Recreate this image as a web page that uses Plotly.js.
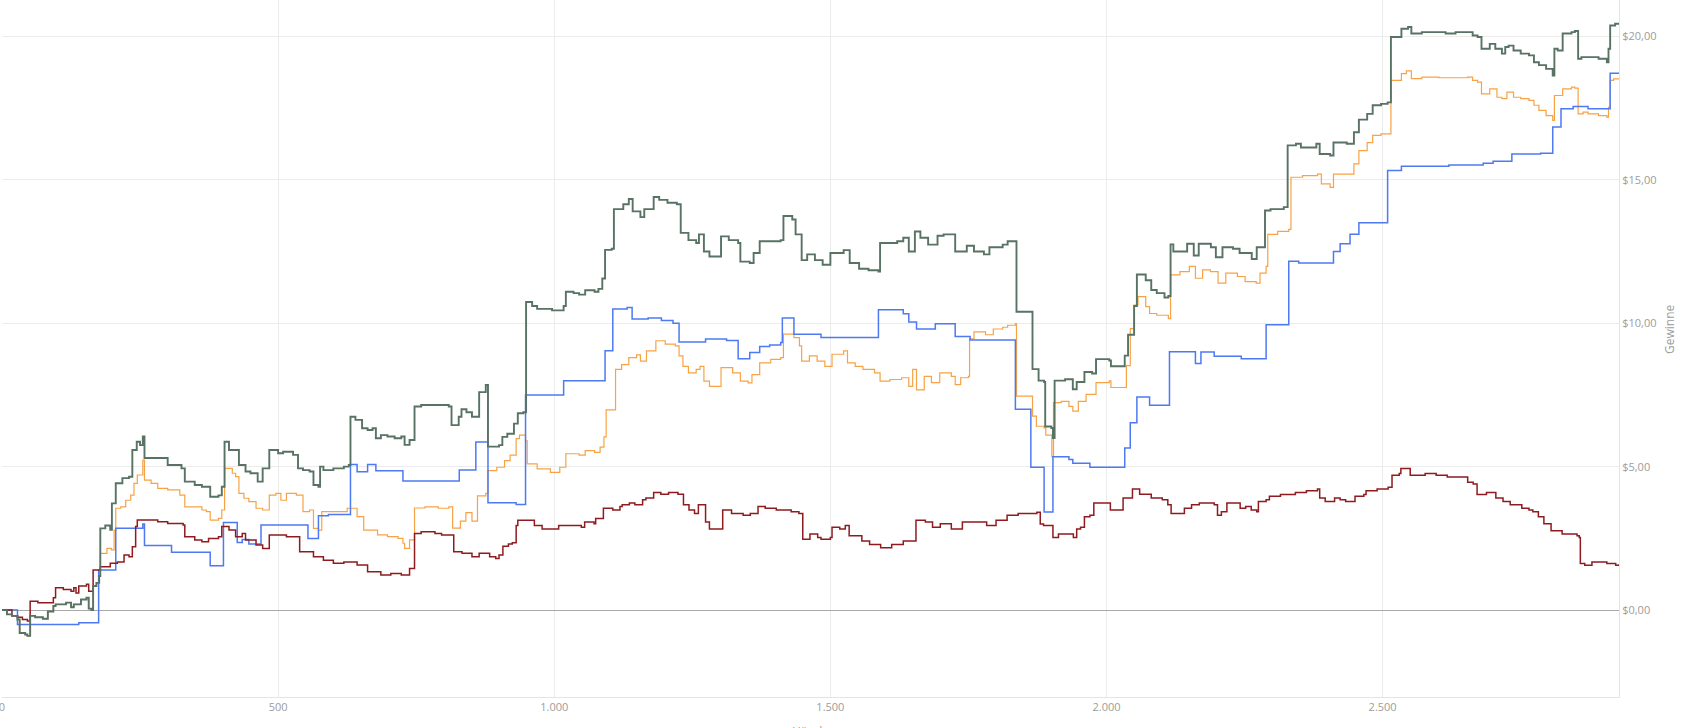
<!DOCTYPE html>
<html>
<head>
<meta charset="utf-8">
<script src="https://cdn.plot.ly/plotly-3.0.1.min.js"></script>
<style>html,body{margin:0;padding:0;background:#fff;}#chart{width:1683px;height:728px;}</style>
</head>
<body>
<div id="chart"></div>
<script>
// Hands (x) and cumulative winnings in $ (y)
const netWonHands = [0,9,18,28,32,42,46,51,60,74,83,93,97,116,125,130,143,153,157,162,165,171,176,178,187,196,199,206,218,230,236,244,250,255,258,270,300,325,331,349,362,377,392,398,403,411,423,429,441,450,463,472,484,500,509,527,536,545,557,564,573,576,582,600,619,628,631,640,652,662,671,677,686,698,711,723,729,738,747,759,778,809,814,827,832,841,851,864,876,880,900,906,915,927,934,944,949,960,969,996,1017,1021,1035,1045,1056,1073,1080,1087,1092,1104,1108,1125,1135,1142,1156,1163,1180,1190,1205,1222,1229,1243,1257,1262,1271,1281,1299,1302,1316,1333,1337,1354,1361,1372,1392,1410,1415,1431,1437,1448,1458,1472,1486,1500,1524,1535,1552,1569,1587,1590,1621,1632,1642,1653,1663,1677,1694,1705,1726,1747,1760,1778,1788,1812,1821,1835,1837,1863,1866,1877,1887,1889,1900,1903,1906,1925,1939,1946,1960,1974,1981,2005,2008,2029,2033,2039,2050,2055,2071,2081,2091,2105,2112,2116,2121,2146,2158,2167,2189,2198,2210,2229,2241,2263,2272,2287,2297,2321,2328,2343,2352,2380,2386,2405,2411,2435,2448,2457,2472,2482,2497,2509,2515,2528,2534,2546,2552,2571,2602,2614,2632,2654,2663,2672,2679,2694,2704,2716,2722,2728,2737,2750,2765,2774,2783,2796,2808,2811,2817,2826,2842,2848,2854,2860,2872,2891,2906,2909,2912,2921,2928];
const netWon = [0,-0.15,-0.2,-0.33,-0.8,-0.85,-0.9,-0.2,-0.25,-0.3,-0.05,0.14,0.2,0.26,0.1,0.2,0.37,0.43,0.05,0,0.84,0.95,1.19,2.85,2.95,2.8,3.72,4.42,4.6,4.65,5.58,5.87,5.75,6.05,5.3,5.3,5.06,4.94,4.48,4.36,4.3,3.95,4.0,4.3,5.87,5.58,5.58,5.06,4.83,4.77,4.48,4.94,5.58,5.47,5.52,5.41,4.94,4.88,4.83,4.36,4.3,5.0,4.88,4.94,5.0,5.06,6.74,6.63,6.34,6.28,6.34,5.99,6.1,6.05,5.99,6.05,5.76,5.93,7.1,7.15,7.15,7.1,6.45,6.74,7.0,6.9,6.74,7.6,7.85,5.7,5.75,6.04,6.15,6.5,6.86,6.9,10.74,10.6,10.5,10.45,10.6,11.1,11.05,11.0,11.15,11.1,11.2,11.56,12.56,12.6,13.98,14.15,14.33,13.9,13.7,13.98,14.4,14.3,14.2,14.15,13.15,12.9,12.8,13.1,12.5,12.33,12.33,13.03,12.9,12.8,12.15,12.1,12.45,12.86,12.86,12.9,13.74,13.62,13.1,12.2,12.4,12.2,12.04,12.45,12.55,12.1,11.9,11.85,11.8,12.8,12.86,12.98,12.5,13.2,12.98,12.74,13.05,13.1,12.5,12.7,12.5,12.4,12.65,12.74,12.86,12.86,10.4,10.4,8.4,8.0,7.95,6.4,6.35,6.0,8.0,8.05,7.7,7.95,8.3,8.25,8.75,8.7,8.5,8.5,8.87,9.6,10.6,11.7,11.5,11.16,11.05,10.9,10.95,12.75,12.5,12.77,12.36,12.77,12.65,12.3,12.65,12.6,12.45,12.24,12.65,13.93,13.98,14.05,16.2,16.26,16.13,16.26,15.9,15.85,16.3,16.26,16.66,17.1,17.3,17.6,17.65,17.7,19.98,19.98,20.27,20.33,20.1,20.15,20.15,20.1,20.15,20.15,20.03,19.98,19.57,19.74,19.57,19.4,19.63,19.68,19.51,19.4,19.34,19.1,19.0,18.87,18.64,19.57,19.51,20.1,20.15,20.19,19.22,19.28,19.28,19.22,19.1,19.57,20.38,20.44,20.42];

const showdownHands = [0,28,139,175,206,255,258,307,377,401,426,435,447,469,554,573,591,631,643,662,677,726,828,858,880,931,948,1017,1092,1106,1132,1141,1170,1194,1215,1226,1274,1312,1333,1354,1372,1390,1410,1413,1434,1483,1587,1632,1642,1656,1690,1726,1753,1835,1863,1887,1903,1932,1939,1970,2033,2043,2055,2078,2114,2161,2171,2195,2244,2289,2330,2348,2411,2423,2441,2457,2509,2534,2620,2682,2700,2734,2786,2808,2823,2845,2872,2912,2928];
const showdown = [0,-0.5,-0.44,1.4,2.85,3.0,2.25,2.02,1.55,3.05,2.36,2.46,2.3,2.97,2.5,3.29,3.33,5.08,4.82,5.08,4.86,4.5,4.88,5.86,3.74,3.68,7.5,8.0,9.04,10.5,10.55,10.15,10.18,10.1,10.0,9.35,9.45,9.4,8.76,8.98,9.19,9.24,9.33,10.18,9.62,9.5,10.47,10.33,10.04,9.8,9.98,9.54,9.42,7.0,4.98,3.42,5.35,5.25,5.12,4.98,5.65,6.53,7.43,7.14,9.01,8.6,9.0,8.85,8.76,9.95,12.16,12.1,12.5,12.77,13.1,13.5,15.33,15.47,15.52,15.58,15.65,15.9,15.93,16.84,17.48,17.56,17.48,18.72,18.72];

const nonShowdownHands = [0,18,28,37,46,51,65,79,93,97,111,125,130,134,139,153,157,165,178,196,209,221,230,236,242,245,264,282,300,319,328,331,349,362,374,392,398,411,423,435,441,460,472,484,502,515,539,564,582,600,619,631,643,662,686,704,723,738,747,759,784,796,815,818,833,851,864,883,894,900,907,917,924,931,934,951,964,978,998,1008,1032,1049,1055,1072,1075,1089,1106,1119,1123,1136,1146,1160,1166,1180,1193,1207,1224,1234,1244,1254,1261,1271,1274,1281,1301,1305,1321,1342,1355,1369,1382,1402,1429,1443,1450,1463,1477,1483,1500,1503,1517,1527,1534,1557,1571,1591,1611,1632,1652,1655,1672,1685,1699,1719,1739,1760,1783,1800,1820,1840,1874,1880,1886,1903,1913,1930,1940,1946,1953,1960,1970,1977,2000,2007,2023,2030,2047,2060,2081,2101,2111,2117,2138,2141,2154,2168,2181,2195,2201,2208,2218,2231,2242,2252,2262,2272,2275,2289,2295,2315,2329,2342,2362,2382,2386,2396,2406,2413,2423,2433,2450,2466,2470,2490,2510,2517,2530,2533,2547,2550,2577,2597,2617,2651,2654,2664,2671,2688,2705,2718,2731,2752,2765,2772,2782,2792,2805,2825,2852,2856,2858,2866,2879,2892,2906,2922,2928];
const nonShowdown = [0,-0.2,-0.25,-0.33,-0.38,0.31,0.26,0.26,0.43,0.78,0.72,0.66,0.78,0.6,0.84,0.9,0.66,1.4,1.51,1.63,1.68,1.92,1.86,2.21,2.91,3.14,3.14,3.08,3.02,3.02,2.97,2.56,2.44,2.38,2.5,2.56,2.91,2.79,2.56,2.67,2.44,2.27,2.15,2.62,2.62,2.56,2.03,1.86,1.74,1.63,1.68,1.68,1.57,1.34,1.22,1.28,1.22,1.45,2.67,2.73,2.67,2.62,2.62,2.03,1.98,1.86,1.98,1.86,1.8,1.92,2.23,2.3,2.35,2.95,3.13,3.13,2.95,2.83,2.83,2.95,2.95,2.89,3.07,3.01,3.19,3.55,3.49,3.61,3.67,3.73,3.67,3.85,3.91,4.1,4.04,4.1,4.04,3.67,3.49,3.37,3.67,3.67,3.07,2.83,2.83,3.49,3.37,3.31,3.37,3.61,3.55,3.49,3.43,3.37,2.47,2.65,2.53,2.47,2.53,2.89,2.83,2.95,2.59,2.41,2.29,2.17,2.29,2.41,2.41,3.13,3.07,2.89,3.01,2.83,3.07,3.07,2.95,3.13,3.31,3.37,3.41,3.0,2.95,2.53,2.65,2.65,2.53,2.83,2.89,3.25,3.31,3.73,3.73,3.49,3.49,3.91,4.22,4.04,3.91,3.85,3.67,3.37,3.37,3.55,3.67,3.73,3.73,3.67,3.31,3.43,3.73,3.73,3.55,3.61,3.49,3.43,3.79,3.85,3.97,4.03,4.03,4.1,4.16,4.22,3.91,3.79,3.79,3.91,3.85,3.79,3.97,4.03,4.16,4.22,4.28,4.7,4.76,4.94,4.94,4.7,4.76,4.7,4.64,4.64,4.46,4.4,4.03,4.1,3.91,3.79,3.67,3.55,3.49,3.43,3.25,3.01,2.77,2.65,2.59,2.53,1.62,1.56,1.68,1.68,1.62,1.56,1.6];

const allInEVHands = [0,9,18,28,32,42,46,51,60,74,83,93,97,116,125,130,143,153,157,162,165,171,176,178,190,198,203,206,215,224,233,239,245,255,258,270,282,300,313,322,331,349,362,370,377,392,398,403,417,423,429,438,447,460,472,484,496,505,515,533,545,557,564,573,579,600,625,631,643,655,668,680,698,717,726,729,738,747,766,790,809,816,830,840,851,861,876,880,896,910,920,931,937,948,951,969,993,1010,1021,1035,1045,1056,1073,1083,1090,1094,1104,1111,1122,1135,1149,1156,1167,1184,1201,1219,1226,1233,1243,1257,1264,1271,1281,1299,1302,1323,1337,1351,1358,1372,1392,1410,1415,1434,1444,1448,1462,1476,1490,1503,1524,1531,1545,1559,1580,1590,1608,1629,1642,1649,1656,1670,1683,1698,1719,1726,1736,1750,1752,1760,1781,1795,1812,1821,1835,1837,1863,1866,1873,1887,1890,1901,1904,1918,1932,1939,1949,1963,1974,1981,2005,2008,2029,2036,2043,2050,2057,2071,2078,2091,2112,2116,2133,2150,2161,2174,2188,2202,2216,2237,2251,2271,2278,2289,2292,2310,2330,2334,2355,2382,2389,2405,2411,2435,2448,2457,2472,2482,2497,2509,2515,2528,2534,2543,2552,2571,2602,2632,2654,2663,2672,2679,2694,2707,2716,2725,2737,2750,2765,2774,2783,2796,2808,2811,2820,2826,2842,2848,2854,2863,2872,2891,2906,2909,2912,2918,2928];
const allInEV = [0,-0.15,-0.2,-0.33,-0.8,-0.85,-0.9,-0.2,-0.25,-0.3,-0.05,0.14,0.2,0.26,0.1,0.2,0.37,0.43,0.05,0,0.84,0.95,1.19,1.98,2.15,2.1,2.79,3.55,3.6,3.83,4.01,4.42,4.71,5.23,4.53,4.42,4.24,4.19,4.19,4.01,3.6,3.6,3.49,3.43,3.14,3.2,3.49,4.94,4.77,4.65,4.07,3.9,3.78,3.55,3.49,4.01,4.07,3.83,4.07,4.01,3.43,3.49,2.85,2.79,3.43,3.43,3.55,3.55,3.26,2.79,2.79,2.62,2.56,2.5,2.33,2.15,2.45,3.56,3.6,3.55,3.6,2.86,3.1,3.4,3.1,3.98,4.07,4.86,4.98,5.21,5.4,5.98,6.1,5.9,5.1,4.92,4.8,4.98,5.45,5.45,5.4,5.56,5.5,5.68,6.04,6.98,6.98,8.39,8.56,8.8,8.9,8.68,9.04,9.39,9.27,9.21,8.86,8.5,8.27,8.39,8.5,7.98,7.8,7.8,8.45,8.27,7.98,7.92,8.21,8.62,8.74,8.8,9.62,9.5,9.21,8.68,8.86,8.68,8.5,8.92,9.04,8.62,8.5,8.39,8.27,7.98,8.04,8.1,7.8,8.39,7.68,8.15,7.93,8.27,8.15,7.86,8.1,8.15,9.46,9.7,9.6,9.8,9.86,9.93,9.99,7.46,7.46,6.76,6.41,6.35,6.1,5.35,7.23,7.28,7.1,6.94,7.28,7.52,7.52,7.93,7.99,7.76,7.76,8.52,9.81,10.63,10.93,10.58,10.34,10.28,10.16,11.69,11.8,11.98,11.57,11.86,11.8,11.4,11.75,11.63,11.45,11.4,11.75,11.98,13.1,13.2,13.27,15.09,15.15,15.2,14.86,14.74,15.2,15.2,15.56,16.02,16.3,16.55,16.6,16.6,18.47,18.47,18.7,18.8,18.53,18.58,18.56,18.56,18.58,18.47,18.41,18.0,18.17,17.88,17.83,18.06,17.88,17.83,17.77,17.6,17.42,17.24,17.07,17.94,17.94,18.17,18.23,18.2,17.3,17.36,17.3,17.24,17.19,17.54,18.47,18.52,18.52];

const xTickVals = [0,500,1000,1500,2000,2500];
const xTickText = ['0','500','1.000','1.500','2.000','2.500'];
const yTickVals = [0,5,10,15,20];
const yTickText = ['$0,00','$5,00','$10,00','$15,00','$20,00'];
const xTitle = 'Hände';
const yTitle = 'Gewinne';

function series(x, y, color, width) {
  return {x: x, y: y, type: 'scatter', mode: 'lines', line: {color: color, width: width, shape: 'hv'}, hoverinfo: 'skip', showlegend: false};
}

const traces = [
  series(allInEVHands, allInEV, '#f7a245', 1.2),
  series(showdownHands, showdown, '#4d79f2', 1.5),
  series(nonShowdownHands, nonShowdown, '#8e1b1f', 1.5),
  series(netWonHands, netWon, '#587264', 1.9)
];

const tickFont = {family: 'Open Sans, sans-serif', size: 11, color: '#9c9c9c'};
const titleFont = {family: 'Open Sans, sans-serif', size: 12, color: '#9c9c9c'};

const layout = {
  width: 1683, height: 728,
  margin: {l: 2, r: 64, t: 0, b: 31},
  paper_bgcolor: '#ffffff', plot_bgcolor: '#ffffff',
  showlegend: false,
  xaxis: {
    range: [0, 2928],
    tickmode: 'array', tickvals: xTickVals, ticktext: xTickText,
    ticklabeloverflow: 'allow',
    tickfont: tickFont,
    showgrid: true, gridcolor: '#ececec', gridwidth: 1,
    zeroline: false,
    showline: true, linecolor: '#e4e4e4', linewidth: 1,
    ticks: '',
    fixedrange: true
  },
  yaxis: {
    side: 'right',
    range: [-3.03, 21.27],
    tickmode: 'array', tickvals: yTickVals, ticktext: yTickText,
    tickfont: tickFont,
    showgrid: true, gridcolor: '#ececec', gridwidth: 1,
    zeroline: true, zerolinecolor: '#a9a9a9', zerolinewidth: 1,
    showline: true, linecolor: '#e4e4e4', linewidth: 1,
    ticks: '',
    fixedrange: true
  },
  annotations: [
    {text: xTitle, xref: 'paper', yref: 'paper', x: 0.5, y: 0, xanchor: 'center', yanchor: 'top', yshift: -24, showarrow: false, font: titleFont},
    {text: yTitle, xref: 'paper', yref: 'paper', x: 1, y: 0.528, xanchor: 'center', yanchor: 'middle', xshift: 51, textangle: -90, showarrow: false, font: titleFont}
  ]
};

Plotly.newPlot('chart', traces, layout, {staticPlot: true, displayModeBar: false});
</script>
</body>
</html>
